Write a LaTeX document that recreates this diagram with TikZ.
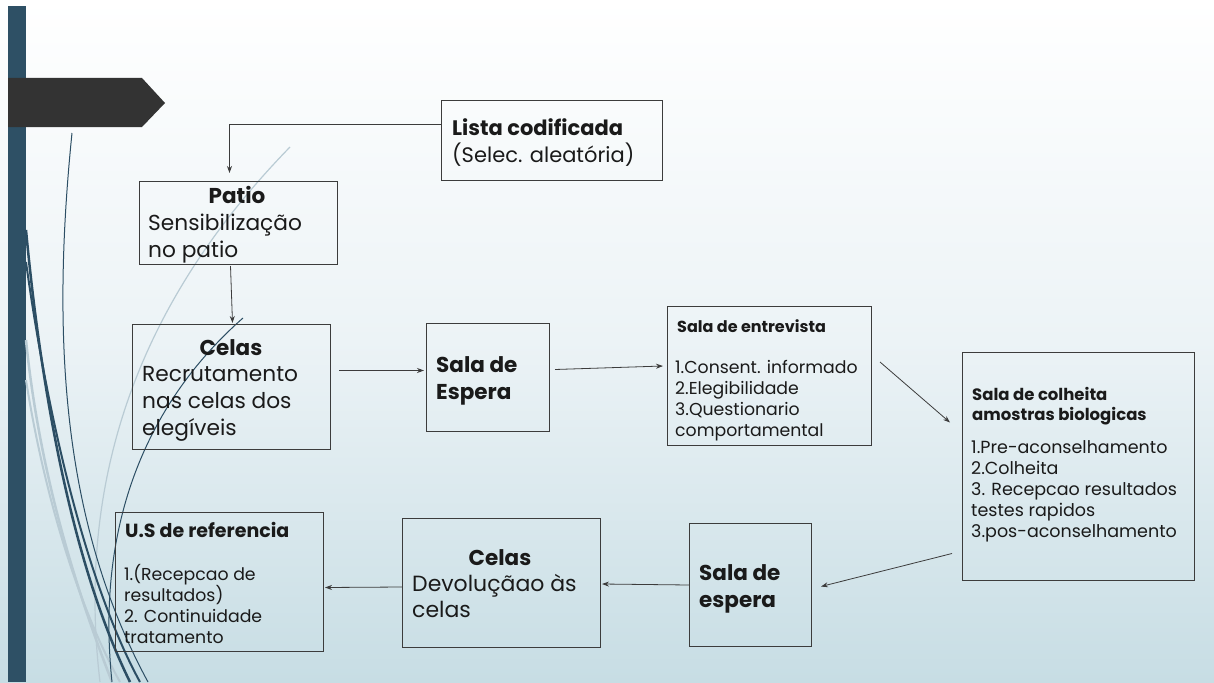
\documentclass[tikz,border=0pt]{standalone}
\usepackage{fontspec}
\setmainfont{Poppins}
\usetikzlibrary{arrows.meta,calc}
\definecolor{bgbot}{RGB}{199,221,228}
\definecolor{barc}{RGB}{46,80,101}
\definecolor{penta}{RGB}{51,51,51}
\definecolor{darkln}{RGB}{44,78,100}
\definecolor{lightln}{RGB}{185,203,212}
\definecolor{txt}{RGB}{26,26,26}
\definecolor{edge}{RGB}{60,60,60}
\tikzset{
  box/.style={draw=edge, line width=1pt, inner sep=0pt, anchor=north west},
  conn/.style={draw=edge, line width=0.8pt, -{Stealth[length=7pt,width=5pt]}},
  txtn/.style={inner sep=0pt, anchor=base west, align=left, text=txt},
  head/.style={inner sep=0pt, anchor=base, text=txt, font=\fontsize{21.5}{27}\selectfont\bfseries},
  big/.style={font=\fontsize{21.7}{26.7}\selectfont},
  bigb/.style={font=\fontsize{21.5}{27}\selectfont\bfseries},
  small/.style={font=\fontsize{17.3}{20.7}\selectfont},
}
\begin{document}
\begin{tikzpicture}[x=1pt,y=-1pt]
\useasboundingbox (0,0) rectangle (1214,682);
% background
\shade[top color=white, bottom color=bgbot, middle color={rgb,255:red,236;green,243;blue,246}] (0,0) rectangle (1214,682);
% left bar and pentagon
\fill[barc] (8,6) rectangle (26,682);
\fill[penta] (8,78) -- (142,78) -- (165,103) -- (142,127) -- (8,127) -- cycle;
% decorative curves
\draw[lightln, line width=2.5pt] (26,340) .. controls (40,480) and (80,600) .. (112,682);
\draw[lightln, line width=2pt] (26,380) .. controls (45,500) and (80,610) .. (120,682);
\draw[lightln, line width=1.2pt] (290,147) .. controls (180,260) and (70,430) .. (100,682);
\draw[darkln, line width=2.5pt] (26,230) .. controls (40,380) and (70,560) .. (130,682);
\draw[darkln, line width=2pt] (26,262) .. controls (52,450) and (95,600) .. (140,682);
\draw[darkln, line width=1pt] (72,133) .. controls (52,330) and (60,520) .. (148,682);
\draw[darkln, line width=1pt] (243,318) .. controls (150,400) and (95,520) .. (112,682);

% boxes
\node[box, minimum width=221pt, minimum height=80pt] (lista) at (441,100) {};
\node[box, minimum width=198pt, minimum height=83pt] (patio) at (139,181) {};
\node[box, minimum width=198pt, minimum height=125pt] (celas1) at (132,324) {};
\node[box, minimum width=123pt, minimum height=108pt] (espera1) at (426,323) {};
\node[box, minimum width=204pt, minimum height=139pt] (entrev) at (667,306) {};
\node[box, minimum width=232pt, minimum height=228pt] (colh) at (962,352) {};
\node[box, minimum width=122pt, minimum height=123pt] (espera2) at (689,523) {};
\node[box, minimum width=198pt, minimum height=129pt] (celas2) at (402,518) {};
\node[box, minimum width=208pt, minimum height=139pt] (us) at (115,512) {};

% texts (anchored at the baseline of their last line)
\node[txtn, font=\fontsize{21}{27}\selectfont] (tlista) at (452,162) {\textbf{Lista codificada}\\(Selec. aleatória)};
\node[head] (hpatio) at (237,203) {Patio};
\node[txtn, big] (tpatio) at (148,257) {Sensibilização\\no patio};
\node[head] (hcelas1) at (231,355) {Celas};
\node[txtn, big] (tcelas1) at (142,435) {Recrutamento\\nas celas dos\\elegíveis};
\node[txtn, bigb] (tespera1) at (436,399) {Sala de\\Espera};
\node[txtn, font=\fontsize{16}{20}\selectfont\bfseries] (hentrev) at (677,332) {Sala de entrevista};
\node[txtn, small] (tentrev) at (675,436) {1.Consent. informado\\2.Elegibilidade\\3.Questionario\\comportamental};
\node[txtn, font=\fontsize{16.5}{20}\selectfont\bfseries] (hcolh) at (972,420) {Sala de colheita\\amostras biologicas};
\node[txtn, font=\fontsize{17.5}{21}\selectfont] (tcolh) at (971,537) {1.Pre-aconselhamento\\2.Colheita\\3. Recepcao resultados\\testes rapidos\\3.pos-aconselhamento};
\node[txtn, bigb] (tespera2) at (699,607) {Sala de\\espera};
\node[head] (hcelas2) at (500,565) {Celas};
\node[txtn, font=\fontsize{22}{26}\selectfont] (tcelas2) at (412,617) {Devoluçãao às\\celas};
\node[txtn, font=\fontsize{19}{20}\selectfont\bfseries] (hus) at (125,537) {U.S de referencia};
\node[txtn, small] (tus) at (124,643) {1.(Recepcao de\\resultados)\\2. Continuidade\\tratamento};

% connectors
\draw[conn] ($(lista.north west)!0.3!(lista.south west)$) -| ([xshift=-9pt,yshift=8pt]patio.north);
\draw[conn] ([xshift=-8pt,yshift=-1pt]patio.south) -- ([xshift=1pt,yshift=1pt]celas1.north);
\draw[conn] ([xshift=8pt,yshift=16.5pt]celas1.east) -- ([xshift=-2pt,yshift=7pt]espera1.west);
\draw[conn] ([xshift=5pt,yshift=8pt]espera1.east) -- ([xshift=-4pt,yshift=10pt]entrev.west);
\draw[conn] ([xshift=8pt,yshift=14pt]entrev.east) -- ([xshift=-12pt,yshift=44pt]colh.west);
\draw[conn] ([xshift=-10pt,yshift=-87pt]colh.west) -- ([xshift=9pt,yshift=-1.5pt]espera2.east);
\draw[conn] (espera2.west) -- ([xshift=1pt,yshift=-1pt]celas2.east);
\draw[conn] ([yshift=-4pt]celas2.west) -- ([xshift=1pt,yshift=-5.5pt]us.east);
\end{tikzpicture}
\end{document}
